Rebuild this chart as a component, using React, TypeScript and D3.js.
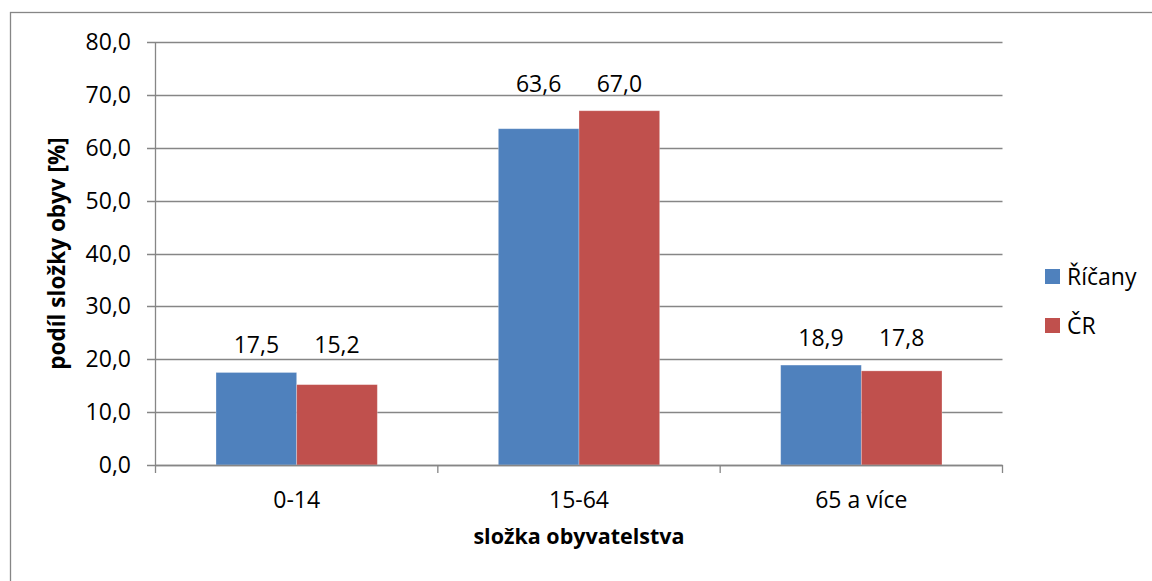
import React from "react";
import * as d3 from "d3";

const categories = ["0-14", "15-64", "65 a více"];
const seriesNames = ["Říčany", "ČR"];
const ricanyValues = [17.5, 63.6, 18.9];
const crValues = [15.2, 67.0, 17.8];
const yTicks = [0, 10, 20, 30, 40, 50, 60, 70, 80];
const colors = ["#4F81BD", "#C0504D"];

const W = 1152;
const H = 581;
const FONT = "'Open Sans', sans-serif";
const GRID = "#868686";

export default function App() {
  const left = 155.5;
  const right = 1002.5;
  const top = 42;
  const bottom = 465;

  const x0 = d3.scaleBand<string>().domain(categories).range([left, right]).padding(0);
  const x1 = d3
    .scaleBand<string>()
    .domain(seriesNames)
    .range([0, x0.bandwidth()])
    .paddingInner(0)
    .paddingOuter(0.75);
  const y = d3.scaleLinear().domain([0, 80]).range([bottom, top]);
  const fmt = (v: number) => d3.format(".1f")(v).replace(".", ",");

  const series = [ricanyValues, crValues];
  const boundaries = [...categories.map((c) => x0(c) as number), right];

  return (
    <svg
      width={W}
      height={H}
      style={{ position: "absolute", left: 0, top: 0, display: "block", background: "#fff" }}
      fontFamily={FONT}
    >
      <rect x={10.5} y={12.5} width={1200} height={700} fill="none" stroke={GRID} strokeWidth={1.3} />

      {/* gridlines and y ticks */}
      {yTicks.map((t) => (
        <g key={t}>
          <line x1={147} x2={right} y1={Math.round(y(t)) + 0.5} y2={Math.round(y(t)) + 0.5} stroke={GRID} strokeWidth={1.3} />
          <text x={131} y={y(t) + 8} textAnchor="end" fontSize={23} fill="#000">
            {fmt(t)}
          </text>
        </g>
      ))}

      {/* bars */}
      {categories.map((c, ci) => (
        <g key={c} transform={`translate(${x0(c)},0)`}>
          {seriesNames.map((s, si) => (
            <rect
              key={s}
              x={x1(s)}
              y={y(series[si][ci])}
              width={x1.bandwidth()}
              height={y(0) - y(series[si][ci])}
              fill={colors[si]}
              stroke="#ffffff"
              strokeOpacity={0.35}
              strokeWidth={0.8}
            />
          ))}
        </g>
      ))}

      {/* axes */}
      <line x1={left} x2={left} y1={top} y2={bottom} stroke={GRID} strokeWidth={1.3} />
      <line x1={left} x2={right} y1={bottom + 0.5} y2={bottom + 0.5} stroke={GRID} strokeWidth={1.3} />
      {boundaries.map((b, i) => (
        <line key={i} x1={b} x2={b} y1={bottom} y2={bottom + 8} stroke={GRID} strokeWidth={1.3} />
      ))}

      {/* data labels */}
      {categories.map((c, ci) => {
        const maxV = d3.max(series.map((s) => s[ci])) as number;
        return seriesNames.map((s, si) => (
          <text
            key={c + s}
            x={(x0(c) as number) + (x1(s) as number) + x1.bandwidth() / 2}
            y={y(maxV) - 19}
            textAnchor="middle"
            fontSize={23}
            fill="#000"
          >
            {fmt(series[si][ci])}
          </text>
        ));
      })}

      {/* category labels */}
      {categories.map((c) => (
        <text
          key={c}
          x={(x0(c) as number) + x0.bandwidth() / 2}
          y={508}
          textAnchor="middle"
          fontSize={23}
          fill="#000"
        >
          {c}
        </text>
      ))}

      {/* axis titles */}
      <text x={(left + right) / 2} y={544} textAnchor="middle" fontSize={21.5} fontWeight="bold" fill="#000">
        složka obyvatelstva
      </text>
      <text
        transform={`translate(65,${(top + bottom) / 2}) rotate(-90)`}
        textAnchor="middle"
        fontSize={22.5}
        fontWeight="bold"
        fill="#000"
      >
        podíl složky obyv [%]
      </text>

      {/* legend */}
      {seriesNames.map((s, i) => (
        <g key={s} transform={`translate(1045,${269 + i * 49})`}>
          <rect x={0} y={0} width={15} height={15} fill={colors[i]} />
          <text x={22} y={16} fontSize={23} fill="#000">
            {s}
          </text>
        </g>
      ))}
    </svg>
  );
}
